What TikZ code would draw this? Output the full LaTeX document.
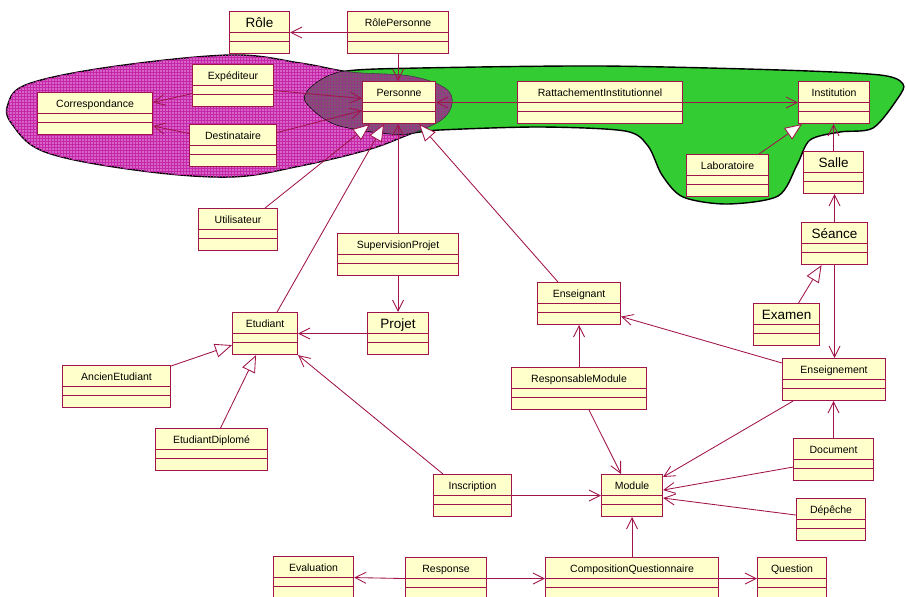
\documentclass[tikz,border=0pt]{standalone}
\usepackage{fontspec}
\setmainfont{Liberation Sans}
\usetikzlibrary{arrows.meta,patterns}
\definecolor{umlred}{RGB}{160,20,75}
\definecolor{umlfill}{RGB}{255,255,204}
\definecolor{blobmag}{RGB}{216,100,200}
\definecolor{blobmagline}{RGB}{196,40,168}
\definecolor{blobgreen}{RGB}{51,204,51}
\definecolor{blobdark}{RGB}{124,84,116}
\definecolor{blobdarkline}{RGB}{150,56,132}
\tikzset{
  cls/.style={draw=umlred, fill=umlfill, line width=1.1pt, anchor=north west,
    inner xsep=0pt, inner ysep=0pt, minimum height=42pt,
    text height=15pt, text depth=27pt, font=\fontsize{10.5}{12}\selectfont,
    path picture={\draw[umlred, line width=0.9pt]
      ([yshift=-21pt]path picture bounding box.north west) -- ([yshift=-21pt]path picture bounding box.north east)
      ([yshift=-30pt]path picture bounding box.north west) -- ([yshift=-30pt]path picture bounding box.north east);}},
  bigtitle/.style={font=\fontsize{13.5}{15}\selectfont, text height=16pt, text depth=26pt},
  assoc/.style={draw=umlred, line width=0.85pt, -{Straight Barb[length=11pt,width=11pt,line width=0.85pt]}},
  gen/.style={draw=umlred, line width=0.85pt, -{Triangle[length=17pt,width=14pt,fill=white,line width=0.85pt]}},
}
\def\magpath{plot[smooth cycle, tension=0.6] coordinates {(8,104) (28,84) (110,67) (230,55) (300,63) (350,72) (410,76) (445,88) (452,104) (440,121) (405,136) (367,150) (300,166) (230,177) (135,170) (45,152) (12,124)}}
\def\greenpath{plot[smooth cycle, tension=0.5] coordinates {(305,100) (318,82) (347,71) (420,68) (600,66) (780,70) (880,75) (903,84) (898,98) (873,128) (840,132) (810,140) (797,165) (778,196) (727,204) (683,197) (662,175) (648,146) (625,131) (540,127) (440,130) (395,134) (335,124)}}
\begin{document}
\begin{tikzpicture}[x=1pt, y=-1pt]
\useasboundingbox (0,0) rectangle (906,597);
\fill[white] (0,0) rectangle (906,597);
% blobs
\filldraw[draw=black, line width=1.4pt, fill=blobmag] \magpath;
\path[pattern=grid, pattern color=blobmagline] \magpath;
\filldraw[draw=black, line width=1.4pt, fill=blobgreen] \greenpath;
\begin{scope}
  \clip \magpath;
  \fill[blobdark] \greenpath;
  \path[pattern=grid, pattern color=blobdarkline] \greenpath;
\end{scope}
\begin{scope}
  \clip \greenpath;
  \draw[black!75, line width=0.6pt] \magpath;
\end{scope}
% classes
\node[cls, bigtitle, minimum width=60pt] (role) at (229,11) {Rôle};
\node[cls, minimum width=101pt] (rolepers) at (347,11) {RôlePersonne};
\node[cls, minimum width=81pt] (exped) at (192,64) {Expéditeur};
\node[cls, minimum width=115pt] (corresp) at (37,92) {Correspondance};
\node[cls, minimum width=87pt] (destin) at (189,124) {Destinataire};
\node[cls, minimum width=73pt] (personne) at (362,81) {Personne};
\node[cls, minimum width=165pt] (ratt) at (517,81) {RattachementInstitutionnel};
\node[cls, minimum width=71pt] (instit) at (798,81) {Institution};
\node[cls, minimum width=82pt] (labo) at (686,154) {Laboratoire};
\node[cls, bigtitle, minimum width=60pt] (salle) at (803,151) {Salle};
\node[cls, minimum width=79pt] (util) at (198,208) {Utilisateur};
\node[cls, minimum width=121pt] (supproj) at (337,233) {SupervisionProjet};
\node[cls, minimum width=65pt] (etud) at (232,312) {Etudiant};
\node[cls, bigtitle, minimum width=61pt] (projet) at (367,312) {Projet};
\node[cls, minimum width=108pt] (ancien) at (62,365) {AncienEtudiant};
\node[cls, minimum width=112pt] (diplome) at (155,428) {EtudiantDiplomé};
\node[cls, bigtitle, minimum width=66pt] (seance) at (801,222) {Séance};
\node[cls, minimum width=83pt] (enseignant) at (537,282) {Enseignant};
\node[cls, bigtitle, minimum width=66pt] (examen) at (753,303) {Examen};
\node[cls, minimum width=103pt] (enseignement) at (782,358) {Enseignement};
\node[cls, minimum width=135pt] (respmod) at (511,367) {ResponsableModule};
\node[cls, minimum width=80pt] (document) at (793,438) {Document};
\node[cls, minimum width=78pt] (inscription) at (433,474) {Inscription};
\node[cls, minimum width=61pt] (module) at (601,474) {Module};
\node[cls, minimum width=69pt] (depeche) at (796,498) {Dépêche};
\node[cls, minimum width=80pt] (evaluation) at (273,556) {Evaluation};
\node[cls, minimum width=81pt] (response) at (405,557) {Response};
\node[cls, minimum width=173pt] (compq) at (545,557) {CompositionQuestionnaire};
\node[cls, minimum width=69pt] (question) at (757,557) {Question};
% connectors
\draw[assoc] (rolepers.west) -- (role.east);
\draw[assoc] (rolepers.south) -- (rolepers.south |- personne.north);
\draw[assoc] ([yshift=-8pt]exped.west) -- ([yshift=11pt]corresp.east);
\draw[assoc] ([yshift=-5pt]exped.east) -- ([yshift=4pt]personne.west);
\draw[assoc] ([yshift=12pt]destin.west) -- ([yshift=-12.5pt]corresp.east);
\draw[assoc] ([yshift=13pt]destin.east) -- ([yshift=-8pt]personne.west);
\draw[assoc] (ratt.west) -- (personne.east);
\draw[assoc] (ratt.east) -- (instit.west);
\draw[gen] ([xshift=-10pt]labo.north east) -- ([xshift=4pt]instit.south west);
\draw[assoc] (salle.north) -- (salle.north |- instit.south);
\draw[assoc] (seance.north) -- (seance.north |- salle.south);
\draw[assoc] (seance.south) -- (seance.south |- enseignement.north);
\draw[gen] ([xshift=12pt]examen.north) -- ([xshift=-13pt]seance.south);
\draw[assoc] ([yshift=-5pt]enseignement.north west) -- ([yshift=-13pt]enseignant.east);
\draw[assoc] (respmod.north) -- (respmod.north |- enseignant.south);
\draw[assoc] ([xshift=10pt]respmod.south) -- ([xshift=-11pt]module.north);
\draw[assoc] ([xshift=11pt]enseignement.south west) -- ([yshift=-3pt]module.north east);
\draw[assoc] (document.north) -- (document.north |- enseignement.south);
\draw[assoc] ([yshift=-7.5pt]document.west) -- ([yshift=5.5pt]module.east);
\draw[assoc] ([yshift=4.5pt]depeche.west) -- ([yshift=-2.5pt]module.east);
\draw[assoc] (inscription.east) -- (module.west);
\draw[assoc] ([xshift=10pt]inscription.north west) -- (etud.south east);
\draw[assoc] (compq.north) -- (compq.north |- module.south);
\draw[assoc] (compq.east) -- (question.west);
\draw[assoc] (response.east) -- (compq.west);
\draw[assoc] (response.west) -- (evaluation.east);
\draw[assoc] (projet.west) -- (etud.east);
\draw[assoc] (supproj.south) -- (supproj.south |- projet.north);
\draw[assoc] (supproj.north) -- (supproj.north |- personne.south);
\draw[gen] ([xshift=27pt]util.north) -- ([xshift=8pt]personne.south west);
\draw[gen] ([xshift=12pt]etud.north) -- ([xshift=22pt]personne.south west);
\draw[gen] ([xshift=21pt]enseignant.north west) -- ([xshift=-17pt]personne.south east);
\draw[gen] ([yshift=-1pt]ancien.north east) -- ([yshift=10pt]etud.south west);
\draw[gen] ([xshift=9pt]diplome.north) -- ([xshift=-9pt]etud.south);
\end{tikzpicture}
\end{document}
